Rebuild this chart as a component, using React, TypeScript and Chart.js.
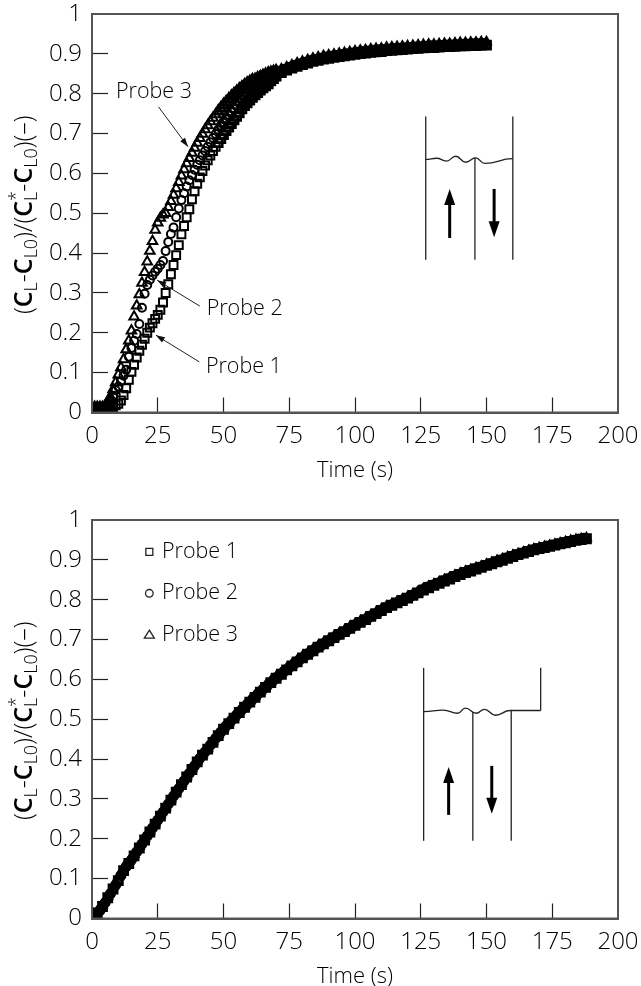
import React, { useEffect, useRef } from "react";
import { Chart, registerables } from "chart.js";

Chart.register(...registerables);

// ---------- upper plot data ----------
const topTimesEven = [0,1,2,3,4,5,6,7,8,9,10,11,12,13,14,15,16,17,18,19,20,21,22,23,24,25,26,27,28,29,30,31,32,33,34,35,36,37,38,39,40,41,42,43,44,45,46,47,48,49,50,51,52,53,54,55,56,57,58,59,60,61,62,63,64,65,66,67,68,69,70,72,74,76,78,80,82,84,86,88,90,92,94,96,98,100,102,104,106,108,110,112,114,116,118,120,122,124,126,128,130,132,134,136,138,140,142,144,146,148,150];
const topTimesOdd = [0,1,2,3,4,5,6,7,8,9,10,11,12,13,14,15,16,17,18,19,20,21,22,23,24,25,26,27,28,29,30,31,32,33,34,35,36,37,38,39,40,41,42,43,44,45,46,47,48,49,50,51,52,53,54,55,56,57,58,59,60,61,62,63,64,65,66,67,68,69,70,71,73,75,77,79,81,83,85,87,89,91,93,95,97,99,101,103,105,107,109,111,113,115,117,119,121,123,125,127,129,131,133,135,137,139,141,143,145,147,149];
const topProbe1 = [.01,.01,.01,.01,.01,.01,.011,.012,.014,.018,.022,.03,.044,.061,.082,.102,.12,.138,.155,.17,.185,.2,.213,.224,.235,.245,.258,.276,.3,.322,.347,.37,.395,.42,.447,.468,.49,.51,.535,.555,.574,.59,.606,.62,.633,.645,.656,.667,.677,.687,.697,.707,.716,.725,.734,.743,.752,.762,.77,.777,.784,.791,.797,.803,.809,.815,.82,.825,.832,.838,.844,.853,.859,.864,.869,.873,.877,.881,.884,.887,.889,.891,.893,.895,.897,.899,.901,.902,.904,.905,.906,.908,.909,.91,.911,.912,.913,.914,.915,.916,.916,.917,.918,.918,.919,.92,.92,.921,.921,.922,.922];
const topProbe2 = [.012,.012,.012,.012,.012,.014,.018,.028,.042,.056,.065,.078,.092,.107,.14,.162,.18,.197,.222,.263,.298,.32,.333,.344,.353,.361,.37,.38,.405,.428,.448,.464,.49,.512,.533,.55,.567,.583,.596,.609,.622,.633,.645,.656,.667,.678,.689,.699,.709,.719,.728,.737,.746,.755,.763,.771,.778,.785,.792,.798,.804,.81,.816,.821,.826,.831,.835,.839,.843,.847,.851,.856,.861,.866,.871,.875,.879,.883,.886,.889,.892,.894,.896,.898,.9,.902,.904,.906,.907,.909,.91,.911,.912,.913,.914,.915,.916,.917,.918,.919,.92,.92,.921,.922,.922,.923,.924,.924,.925,.925,.926];
const topProbe3 = [.015,.015,.015,.015,.015,.017,.03,.04,.058,.075,.095,.113,.133,.158,.18,.205,.24,.268,.296,.325,.352,.378,.405,.43,.458,.476,.488,.496,.5,.515,.53,.546,.562,.578,.594,.61,.625,.638,.651,.664,.676,.688,.699,.71,.72,.73,.739,.748,.756,.764,.772,.779,.786,.793,.799,.805,.811,.816,.821,.826,.83,.834,.838,.842,.845,.848,.851,.854,.856,.858,.86,.862,.867,.872,.877,.881,.885,.889,.892,.895,.897,.899,.901,.903,.905,.907,.909,.91,.912,.913,.914,.916,.917,.918,.919,.92,.921,.922,.923,.924,.924,.925,.926,.926,.927,.928,.928,.929,.929,.93,.93];

// ---------- lower plot data ----------
const bottomTimesEven = [0,2,4,6,8,10,12,14,16,18,20,22,24,26,28,30,32,34,36,38,40,42,44,46,48,50,52,54,56,58,60,62,64,66,68,70,72,74,76,78,80,82,84,86,88,90,92,94,96,98,100,102,104,106,108,110,112,114,116,118,120,122,124,126,128,130,132,134,136,138,140,142,144,146,148,150,152,154,156,158,160,162,164,166,168,170,172,174,176,178,180,182,184,186,188];
const bottomTimesOdd = [1,3,5,7,9,11,13,15,17,19,21,23,25,27,29,31,33,35,37,39,41,43,45,47,49,51,53,55,57,59,61,63,65,67,69,71,73,75,77,79,81,83,85,87,89,91,93,95,97,99,101,103,105,107,109,111,113,115,117,119,121,123,125,127,129,131,133,135,137,139,141,143,145,147,149,151,153,155,157,159,161,163,165,167,169,171,173,175,177,179,181,183,185,187];
const bottomProbe1 = [.012,.014,.03,.052,.074,.095,.12,.138,.157,.177,.197,.217,.237,.257,.277,.297,.317,.336,.355,.374,.393,.41,.425,.442,.459,.475,.489,.503,.517,.53,.543,.555,.568,.58,.592,.603,.613,.624,.634,.644,.654,.663,.672,.681,.689,.697,.705,.713,.72,.728,.736,.743,.75,.758,.765,.773,.78,.786,.792,.798,.804,.811,.817,.824,.83,.836,.841,.847,.852,.858,.863,.868,.872,.877,.881,.886,.89,.895,.899,.904,.908,.913,.917,.921,.925,.928,.931,.934,.937,.94,.943,.946,.949,.951,.953];
const bottomProbe2 = [.012,.02,.04,.062,.084,.108,.13,.147,.167,.187,.207,.227,.247,.267,.287,.307,.326,.345,.364,.383,.402,.418,.435,.452,.468,.483,.497,.511,.524,.537,.55,.563,.575,.587,.598,.609,.62,.63,.64,.65,.659,.668,.677,.685,.693,.701,.709,.717,.724,.732,.74,.747,.754,.762,.769,.777,.784,.79,.796,.802,.808,.815,.824,.831,.836,.841,.847,.852,.858,.863,.868,.873,.877,.881,.886,.89,.895,.899,.904,.908,.912,.916,.921,.924,.928,.931,.934,.937,.94,.943,.946,.949,.952,.954];
const bottomProbe3 = [.016,.018,.034,.056,.08,.104,.128,.143,.161,.181,.2,.22,.24,.26,.28,.3,.32,.339,.358,.377,.396,.413,.428,.445,.462,.478,.492,.506,.52,.533,.546,.558,.571,.583,.595,.606,.616,.627,.637,.647,.657,.666,.675,.684,.692,.7,.708,.716,.723,.731,.739,.746,.753,.761,.768,.776,.783,.789,.795,.801,.807,.814,.82,.827,.833,.839,.844,.85,.855,.861,.866,.871,.875,.88,.884,.889,.893,.898,.902,.907,.911,.915,.919,.923,.927,.93,.933,.936,.939,.942,.945,.948,.951,.953,.955];

const xTicksStep = 25;
const yTicksStep = 0.1;
const xTitle = "Time (s)";
const probeNames = ["Probe 1", "Probe 2", "Probe 3"];

const FONT = '"Open Sans"';
const WEIGHT = "300";
const INK = "#000";

const pts = (xs: number[], ys: number[]) => ys.map((y, i) => ({ x: xs[i], y }));

type Pt = [number, number];
type Overlay = {
  walls: [number, number, number][];   // x, y0, y1
  surface: Pt[];
  up: [number, number, number];
  down: [number, number, number];
  labels: { text: string; at: Pt }[];
  pointers: [Pt, Pt][];
  legend?: boolean;
};

const topOverlay: Overlay = {
  walls: [[126.9, .383, .743], [145.6, .383, .64], [160, .383, .743]],
  surface: [[126.9,.635],[131,.638],[134.8,.631],[138.3,.643],[142.1,.628],[145.9,.639],[149.3,.625],[160,.637]],
  up: [136, .438, .561],
  down: [152.9, .561, .44],
  labels: [
    { text: probeNames[2], at: [9.1, .804] },
    { text: probeNames[1], at: [43.6, .26] },
    { text: probeNames[0], at: [43.3, .115] },
  ],
  pointers: [
    [[25.3, .767], [36.5, .667]],
    [[41, .267], [24.8, .332]],
    [[40.8, .127], [24.3, .194]],
  ],
};
const bottomOverlay: Overlay = {
  walls: [[126.1, .195, .629], [144.8, .195, .518], [159.4, .195, .522], [170.6, .522, .629]],
  surface: [[126.1,.519],[133.5,.523],[139.1,.515],[142,.528],[146.1,.515],[149.2,.525],[153.4,.51],[159,.522],[170.6,.522]],
  up: [135.6, .26, .38],
  down: [152, .383, .263],
  labels: [],
  pointers: [],
  legend: true,
};

function drawAxisTitle(ctx: CanvasRenderingContext2D, cx: number, cy: number) {
  const size = 25;
  const parts: { t: string; w?: string; s?: "sub" | "both" }[] = [
    { t: "(" }, { t: "C", w: "600" }, { t: "L", s: "sub" }, { t: "-" }, { t: "C", w: "600" }, { t: "L0", s: "sub" },
    { t: ")/(" }, { t: "C", w: "600" }, { t: "L", s: "both" }, { t: "-" }, { t: "C", w: "600" }, { t: "L0", s: "sub" }, { t: ")(–)" },
  ];
  const fontFor = (p: any) => `${p.w || WEIGHT} ${p.s ? Math.round(size * 0.72) : size}px ${FONT}`;
  let total = 0;
  parts.forEach((p) => { ctx.font = fontFor(p); total += ctx.measureText(p.t).width; });
  ctx.save();
  ctx.translate(cx, cy);
  ctx.rotate(-Math.PI / 2);
  ctx.fillStyle = INK;
  ctx.textBaseline = "alphabetic";
  ctx.textAlign = "left";
  let x = -total / 2;
  parts.forEach((p) => {
    ctx.font = fontFor(p);
    const w = ctx.measureText(p.t).width;
    if (p.s === "both") ctx.fillText("*", x, -10);
    ctx.fillText(p.t, x, p.s ? 5 : 0);
    x += w;
  });
  ctx.restore();
}

function arrowHead(ctx: CanvasRenderingContext2D, tx: number, ty: number, ang: number, len: number, half: number) {
  ctx.save();
  ctx.translate(tx, ty);
  ctx.rotate(ang);
  ctx.beginPath();
  ctx.moveTo(0, 0);
  ctx.lineTo(-len, half);
  ctx.lineTo(-len, -half);
  ctx.closePath();
  ctx.fill();
  ctx.restore();
}

function overlayPlugin(ov: Overlay) {
  return {
    id: "overlay",
    afterDatasetsDraw(chart: any) {
      const { ctx, chartArea: a, scales } = chart;
      const X = (v: number) => scales.x.getPixelForValue(v);
      const Y = (v: number) => scales.y.getPixelForValue(v);
      ctx.save();
      // frame
      ctx.strokeStyle = "#555";
      ctx.lineWidth = 2;
      ctx.strokeRect(a.left, a.top, a.right - a.left, a.bottom - a.top);
      // schematic walls
      ctx.strokeStyle = "#222";
      ctx.lineWidth = 1.3;
      ov.walls.forEach(([x, y0, y1]) => {
        ctx.beginPath();
        ctx.moveTo(X(x), Y(y0));
        ctx.lineTo(X(x), Y(y1));
        ctx.stroke();
      });
      // liquid surface
      ctx.beginPath();
      ov.surface.forEach(([x, y], i) => {
        const px = X(x), py = Y(y);
        if (i === 0) ctx.moveTo(px, py);
        else {
          const [x0, y0] = ov.surface[i - 1];
          const p0x = X(x0), p0y = Y(y0);
          const mx = (p0x + px) / 2;
          ctx.bezierCurveTo(mx, p0y, mx, py, px, py);
        }
      });
      ctx.stroke();
      // flow arrows
      ctx.fillStyle = "#000";
      ctx.strokeStyle = "#000";
      [ov.up, ov.down].forEach(([x, y0, y1]) => {
        const px = X(x), p0 = Y(y0), p1 = Y(y1);
        const dir = p1 < p0 ? -1 : 1;
        ctx.lineWidth = 3;
        ctx.beginPath();
        ctx.moveTo(px, p0);
        ctx.lineTo(px, p1 - dir * 10);
        ctx.stroke();
        arrowHead(ctx, px, p1, dir < 0 ? -Math.PI / 2 : Math.PI / 2, 16, 5.5);
      });
      // pointers
      ctx.strokeStyle = "#222";
      ctx.fillStyle = "#111";
      ctx.lineWidth = 1;
      ov.pointers.forEach(([from, to]) => {
        const fx = X(from[0]), fy = Y(from[1]), tx = X(to[0]), ty = Y(to[1]);
        ctx.beginPath();
        ctx.moveTo(fx, fy);
        ctx.lineTo(tx, ty);
        ctx.stroke();
        arrowHead(ctx, tx, ty, Math.atan2(ty - fy, tx - fx), 9, 3);
      });
      // labels
      ctx.fillStyle = INK;
      ctx.font = `${WEIGHT} 21.5px ${FONT}`;
      ctx.textBaseline = "middle";
      ctx.textAlign = "left";
      ov.labels.forEach((l) => ctx.fillText(l.text, X(l.at[0]), Y(l.at[1])));
      // legend
      if (ov.legend) {
        const rows = [.92, .816, .711];
        const mx = X(21.8);
        probeNames.forEach((name, i) => {
          const my = Y(rows[i]);
          ctx.fillStyle = INK;
          ctx.fillText(name, X(26.6), my);
          ctx.strokeStyle = "#222";
          ctx.lineWidth = 1.3;
          ctx.beginPath();
          if (i === 0) ctx.rect(mx - 3.5, my - 3.5, 7, 7);
          if (i === 1) ctx.arc(mx, my, 3.8, 0, Math.PI * 2);
          if (i === 2) { ctx.moveTo(mx, my - 5); ctx.lineTo(mx + 5, my + 3); ctx.lineTo(mx - 5, my + 3); ctx.closePath(); }
          ctx.stroke();
        });
      }
      // y title
      drawAxisTitle(ctx, 32, (a.top + a.bottom) / 2 + 1.5);
      ctx.restore();
    },
  };
}

type Marker = { x: number[]; y: number[]; style: string; r: number; rDense: number };

function makeConfig(series: Marker[], ov: Overlay, stroke: (x: number) => number): any {
  return {
    type: "scatter",
    data: {
      datasets: series.map((s, i) => ({
        label: probeNames[i],
        data: pts(s.x, s.y),
        pointStyle: s.style,
        pointRadius: (c: any) => (stroke(c.raw ? c.raw.x : 50) > 3 ? s.rDense : s.r),
        pointBorderWidth: (c: any) => stroke(c.raw ? c.raw.x : 50),
        pointBorderColor: "#000",
        pointBackgroundColor: "transparent",
        showLine: false,
      })),
    },
    plugins: [overlayPlugin(ov)],
    options: {
      animation: false,
      responsive: false,
      layout: { padding: { top: 14, right: 23, left: 0, bottom: 0 } },
      plugins: { legend: { display: false }, tooltip: { enabled: false } },
      scales: {
        x: {
          type: "linear",
          min: 0,
          max: 200,
          afterFit: (s: any) => { s.height = 71.5; s.paddingLeft = 0; s.paddingRight = 0; s.paddingTop = 0; s.paddingBottom = 0; },
          ticks: {
            stepSize: xTicksStep,
            padding: 24,
            maxRotation: 0,
            color: INK,
            font: { family: FONT, size: 24, weight: WEIGHT },
          },
          grid: {
            drawOnChartArea: false,
            tickLength: -15,
            tickColor: "#222",
            tickWidth: (c: any) => (c.tick && (c.tick.value === 0 || c.tick.value === 200) ? 0 : 1.2),
          },
          border: { color: "#555", width: 2 },
          title: { display: true, text: xTitle, color: INK, padding: { top: 0, bottom: 0 }, font: { family: FONT, size: 22, weight: WEIGHT } },
        },
        y: {
          type: "linear",
          min: 0,
          max: 1,
          afterFit: (s: any) => { s.width = 92; s.paddingLeft = 0; s.paddingRight = 0; s.paddingTop = 0; s.paddingBottom = 0; },
          ticks: {
            stepSize: yTicksStep,
            padding: 26,
            color: INK,
            font: { family: FONT, size: 24, weight: WEIGHT },
            callback: (v: any) => String(+Number(v).toFixed(1)),
          },
          grid: {
            drawOnChartArea: false,
            tickLength: -16,
            tickColor: "#222",
            tickWidth: (c: any) => (c.tick && (c.tick.value === 0 || c.tick.value === 1) ? 0 : 1.2),
          },
          border: { color: "#555", width: 2 },
        },
      },
    },
  };
}

export default function App() {
  const topRef = useRef<HTMLCanvasElement>(null);
  const botRef = useRef<HTMLCanvasElement>(null);
  useEffect(() => {
    const a = new Chart(topRef.current!, makeConfig([
      { x: topTimesEven, y: topProbe1, style: "rect", r: 5.6, rDense: 5.2 },
      { x: topTimesOdd, y: topProbe2, style: "circle", r: 4, rDense: 3.8 },
      { x: topTimesEven, y: topProbe3, style: "triangle", r: 5.5, rDense: 3.6 },
    ], topOverlay, (t) => (t < 8 || t >= 62 ? 3.5 : t >= 48 ? 2.8 : 2)));
    const b = new Chart(botRef.current!, makeConfig([
      { x: bottomTimesEven, y: bottomProbe1, style: "rect", r: 5.6, rDense: 5.2 },
      { x: bottomTimesOdd, y: bottomProbe2, style: "circle", r: 4, rDense: 3.8 },
      { x: bottomTimesEven, y: bottomProbe3, style: "triangle", r: 5.5, rDense: 3.6 },
    ], bottomOverlay, () => 3.5));
    return () => { a.destroy(); b.destroy(); };
  }, []);
  return (
    <div style={{ position: "absolute", left: 0, top: 0, width: 641, height: 986, background: "#fff", overflow: "hidden" }}>
      <canvas ref={topRef} width={641} height={484} style={{ position: "absolute", left: 0, top: 0 }} />
      <canvas ref={botRef} width={641} height={484} style={{ position: "absolute", left: 0, top: 506 }} />
    </div>
  );
}
